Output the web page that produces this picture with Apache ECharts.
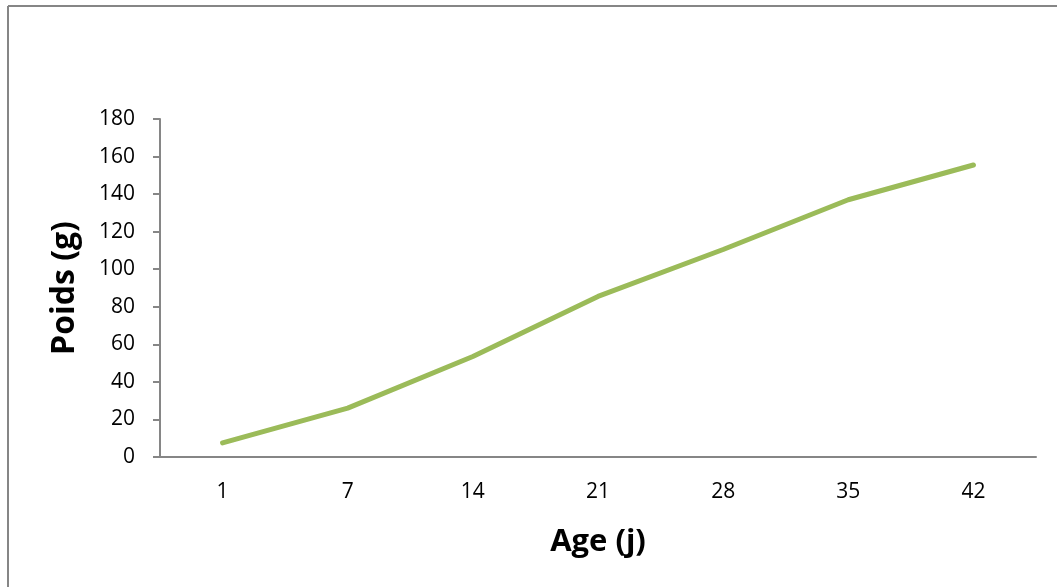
<!DOCTYPE html>
<html>
<head>
<meta charset="utf-8">
<script src="https://cdn.jsdelivr.net/npm/echarts@6/dist/echarts.min.js"></script>
<style>
html,body{margin:0;padding:0;background:#fff;}
#chart{width:1057px;height:587px;}
</style>
</head>
<body>
<div id="chart"></div>
<script>
const categories = ['1', '7', '14', '21', '28', '35', '42'];
const poids = [7.5, 26, 53.5, 85.5, 110.5, 137, 155.5];
const yTicks = [0, 20, 40, 60, 80, 100, 120, 140, 160, 180];

const chart = echarts.init(document.getElementById('chart'));
const font = "'Open Sans', 'Liberation Sans', sans-serif";
chart.setOption({
  backgroundColor: '#fff',
  animation: false,
  graphic: [
    { type: 'line', shape: { x1: 8, y1: 6, x2: 8, y2: 590 }, style: { stroke: '#868686', lineWidth: 2 } },
    { type: 'line', shape: { x1: 8, y1: 6, x2: 1060, y2: 6 }, style: { stroke: '#868686', lineWidth: 2 } }
  ],
  grid: { left: 160, right: 21, top: 119, bottom: 130, containLabel: false },
  xAxis: {
    type: 'category',
    data: categories,
    boundaryGap: true,
    name: 'Age (j)',
    nameLocation: 'middle',
    nameGap: 70,
    nameTextStyle: { fontFamily: font, fontSize: 31, fontWeight: 'bold', color: '#000' },
    axisLine: { lineStyle: { color: '#868686', width: 2 } },
    axisTick: { show: false },
    axisLabel: { fontFamily: font, fontSize: 21, color: '#000', margin: 25 }
  },
  yAxis: {
    type: 'value',
    min: yTicks[0],
    max: yTicks[yTicks.length - 1],
    interval: 20,
    name: 'Poids (g)',
    nameLocation: 'middle',
    nameGap: 79,
    nameRotate: 90,
    nameTextStyle: { fontFamily: font, fontSize: 32, fontWeight: 'bold', color: '#000' },
    axisLine: { show: true, lineStyle: { color: '#868686', width: 2 } },
    axisTick: { show: true, length: 7, lineStyle: { color: '#868686', width: 2 } },
    splitLine: { show: false },
    axisLabel: { fontFamily: font, fontSize: 21, color: '#000', margin: 25 }
  },
  series: [{
    type: 'line',
    data: poids,
    showSymbol: false,
    symbol: 'none',
    lineStyle: { color: '#9BBB59', width: 5, cap: 'round' }
  }]
});
</script>
</body>
</html>
